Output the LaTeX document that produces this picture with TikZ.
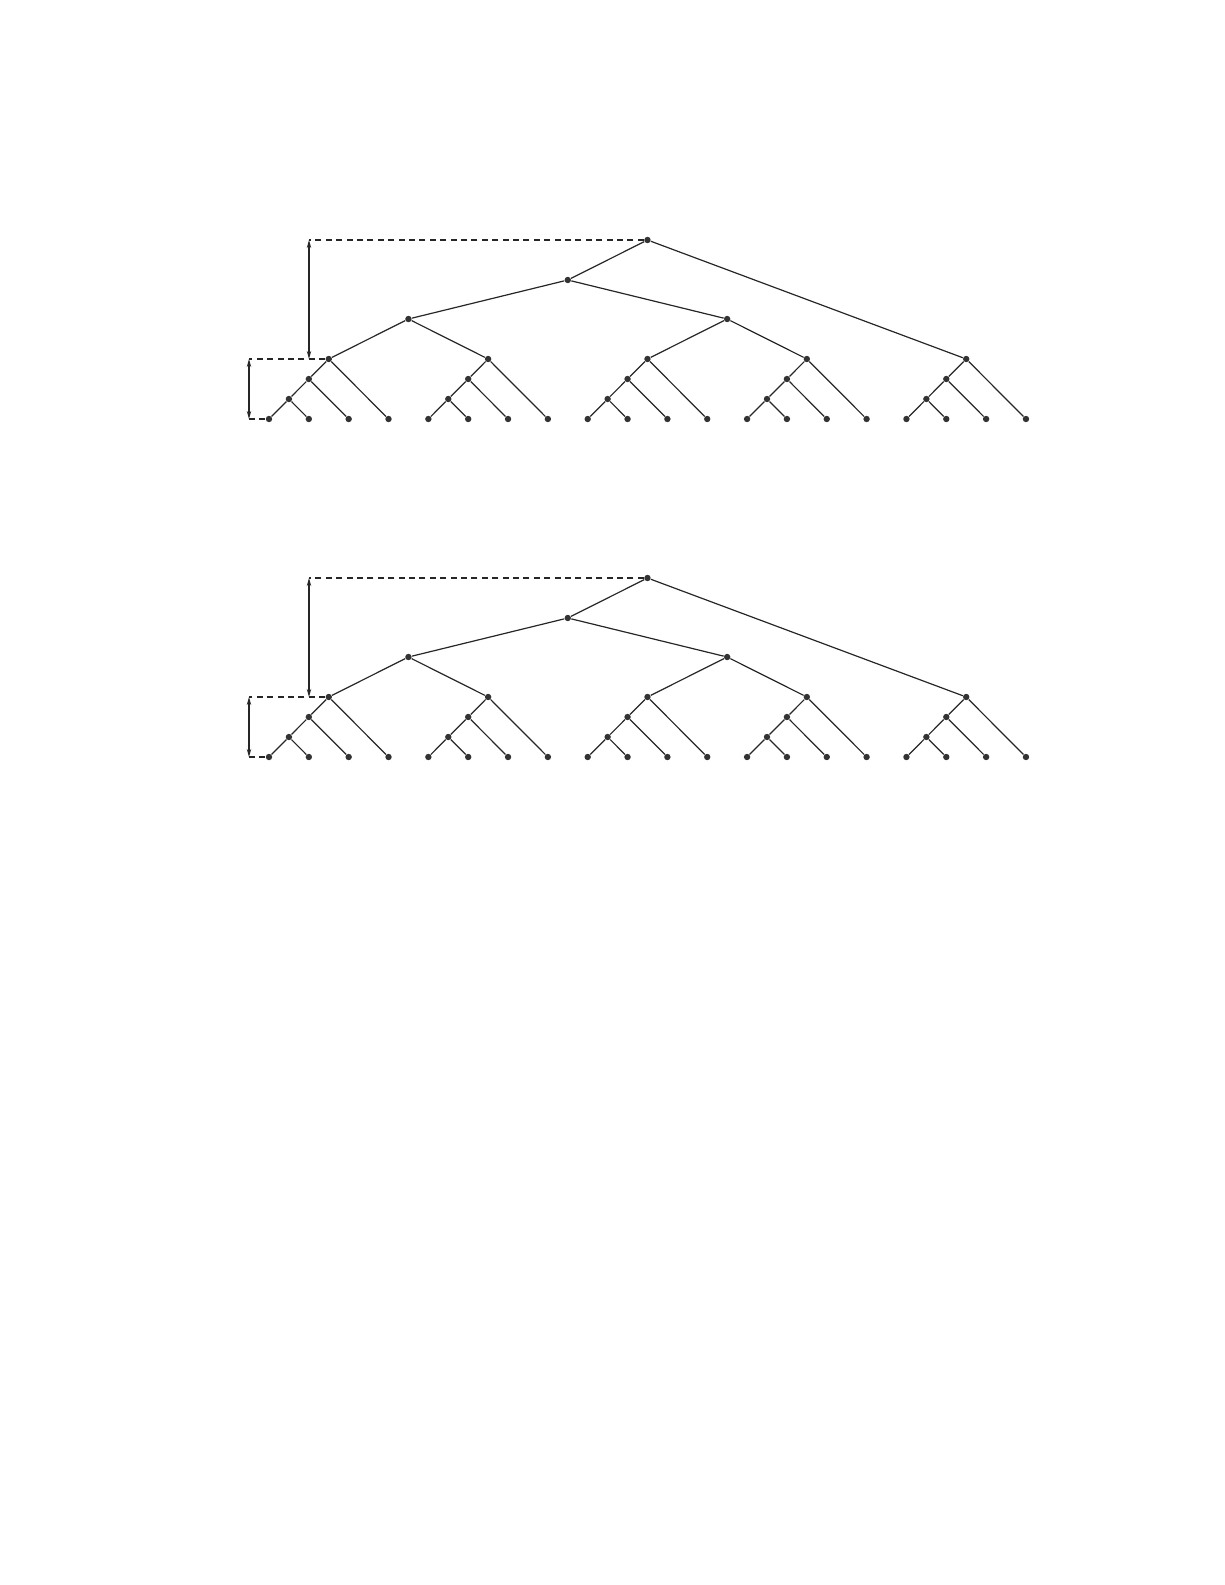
\documentclass[tikz,border=0pt]{standalone}
\usetikzlibrary{arrows.meta}
\begin{document}
\begin{tikzpicture}[x=0.5pt,y=-0.5pt,
  dot/.style={circle,fill=black!80,draw=none,inner sep=0pt,minimum size=3.2pt},
  edge/.style={line width=0.6pt,black!85},
  dashline/.style={line width=0.6pt,black!85,dash pattern=on 3pt off 2.2pt},
  dimarrow/.style={line width=0.6pt,black!85,{Stealth[length=4pt,width=2.2pt]}-{Stealth[length=4pt,width=2.2pt]}}]
\useasboundingbox (0,0) rectangle (1225,1585);
\def\s{39.84}
\foreach \t/\Y in {1/0,2/338}{
  \foreach \k in {0,...,4}{
    \pgfmathsetmacro{\base}{269+4*\k*\s}
    \foreach \j in {0,...,3}{
      \node[dot] (t\t l\k\j) at ({\base+\j*\s},{419+\Y}) {};
    }
    \node[dot] (t\t a\k) at ({\base+0.5*\s},{399+\Y}) {};
    \node[dot] (t\t b\k) at ({\base+\s},{379+\Y}) {};
    \node[dot] (t\t c\k) at ({\base+1.5*\s},{359+\Y}) {};
    \draw[edge] (t\t a\k) -- (t\t l\k0);
    \draw[edge] (t\t a\k) -- (t\t l\k1);
    \draw[edge] (t\t b\k) -- (t\t a\k);
    \draw[edge] (t\t b\k) -- (t\t l\k2);
    \draw[edge] (t\t c\k) -- (t\t b\k);
    \draw[edge] (t\t c\k) -- (t\t l\k3);
  }
  \node[dot] (t\t p0) at ({269+3.5*\s},{319+\Y}) {};
  \node[dot] (t\t p1) at ({269+11.5*\s},{319+\Y}) {};
  \node[dot] (t\t q) at ({269+7.5*\s},{280+\Y}) {};
  \node[dot] (t\t r) at ({269+9.5*\s},{240+\Y}) {};
  \draw[edge] (t\t p0) -- (t\t c0);
  \draw[edge] (t\t p0) -- (t\t c1);
  \draw[edge] (t\t p1) -- (t\t c2);
  \draw[edge] (t\t p1) -- (t\t c3);
  \draw[edge] (t\t q) -- (t\t p0);
  \draw[edge] (t\t q) -- (t\t p1);
  \draw[edge] (t\t r) -- (t\t q);
  \draw[edge] (t\t r) -- (t\t c4);
  \coordinate (t\t h1) at (309,{240+\Y});
  \coordinate (t\t h2) at (309,{359+\Y});
  \coordinate (t\t g1) at (249,{359+\Y});
  \coordinate (t\t g2) at (249,{419+\Y});
  \draw[dashline] (t\t r) -- (t\t h1);
  \draw[dimarrow] (t\t h1) -- (t\t h2);
  \draw[dashline] (t\t c0) -- (t\t g1);
  \draw[dimarrow] (t\t g1) -- (t\t g2);
  \draw[dashline] (t\t g2) -- (t\t l00);
}
\end{tikzpicture}
\end{document}
